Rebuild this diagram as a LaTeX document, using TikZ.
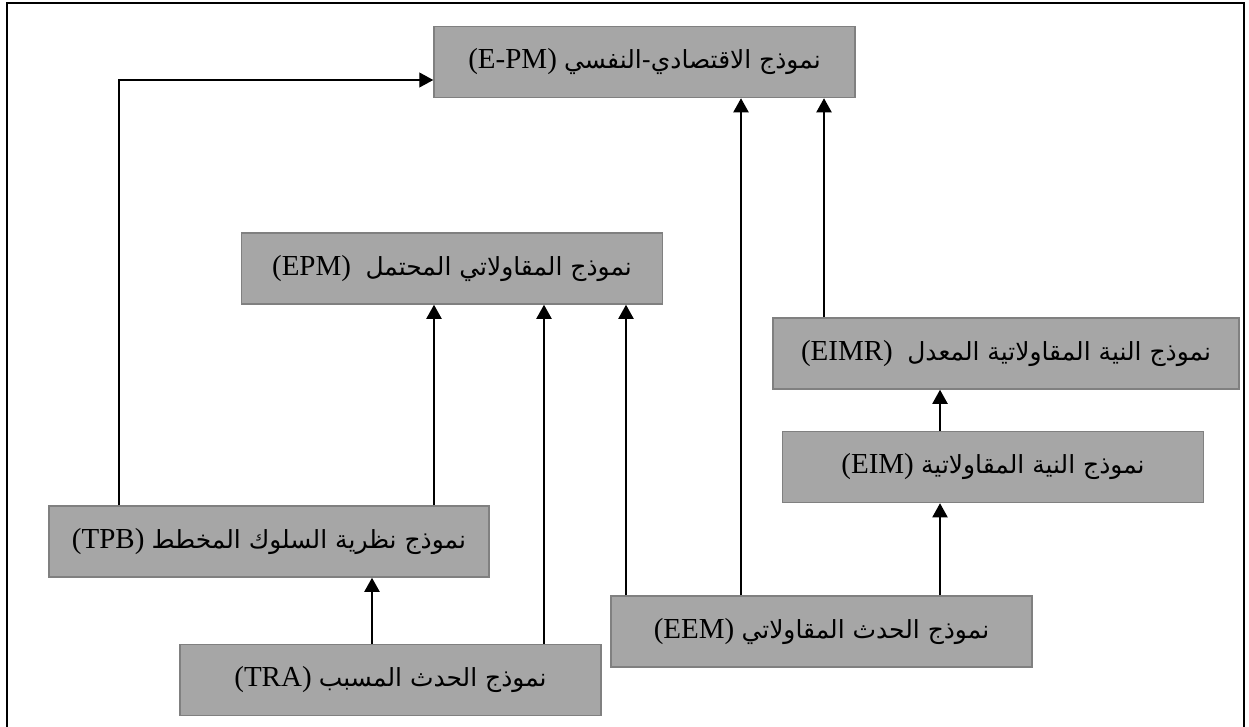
\documentclass[tikz,border=0pt]{standalone}
\usepackage{fontspec}
\setmainfont{Liberation Serif}
\newfontfamily\arabicfont[Script=Arabic,Scale=0.86]{DejaVu Sans}
\TeXXeTstate=1
\usetikzlibrary{arrows.meta}
\newcommand{\artxt}[1]{{\arabicfont\beginR #1\endR}}
\begin{document}
\begin{tikzpicture}[x=1pt, y=-1pt, box/.style={rectangle, draw=black!50, line width=1.5pt, fill=black!35, inner sep=0pt, minimum height=71pt, minimum width=421pt, font=\fontsize{29}{35}\selectfont}, link/.style={line width=2pt, -{Triangle[width=15pt,length=14pt]}}]
	\useasboundingbox (0,0) rectangle (1249,726);
	\draw[line width=2.5pt] (7,760) -- (7,3) -- (1244,3) -- (1244,760);
	\node[box] (psy) at (644.5,62) {(E-PM) \artxt{نموذج الاقتصادي-النفسي}};
	\node[box] (epm) at (452,268.5) {(EPM)\ \ \artxt{نموذج المقاولاتي المحتمل}};
	\node[box, minimum width=466pt] (eimr) at (1006,353.5) {(EIMR)\ \ \artxt{نموذج النية المقاولاتية المعدل}};
	\node[box] (eim) at (993,467) {(EIM) \artxt{نموذج النية المقاولاتية}};
	\node[box, minimum width=440pt] (tpb) at (269,541.5) {(TPB) \artxt{نموذج نظرية السلوك المخطط}};
	\node[box] (eem) at (821.5,631.5) {(EEM) \artxt{نموذج الحدث المقاولاتي}};
	\node[box] (tra) at (390.5,680) {(TRA) \artxt{نموذج الحدث المسبب}};
	\foreach \n/\x in {ca/372, cb/434, cc/544, cd/626, ce/741, cf/824, cg/940}
		\coordinate (\n) at (\x,0);
	\coordinate (bend) at (119,80);
	\foreach \s/\t/\c in {tra/tpb/ca, tpb/epm/cb, tra/epm/cc, eem/epm/cd, eem/psy/ce, eimr/psy/cf, eem/eim/cg, eim/eimr/cg}
		\draw[link] (\s.north -| \c) -- (\t.south -| \c);
	\draw[link, line width=1.2pt] (tpb.north -| bend) -- (bend) -- (bend -| psy.west);
\end{tikzpicture}
\end{document}
